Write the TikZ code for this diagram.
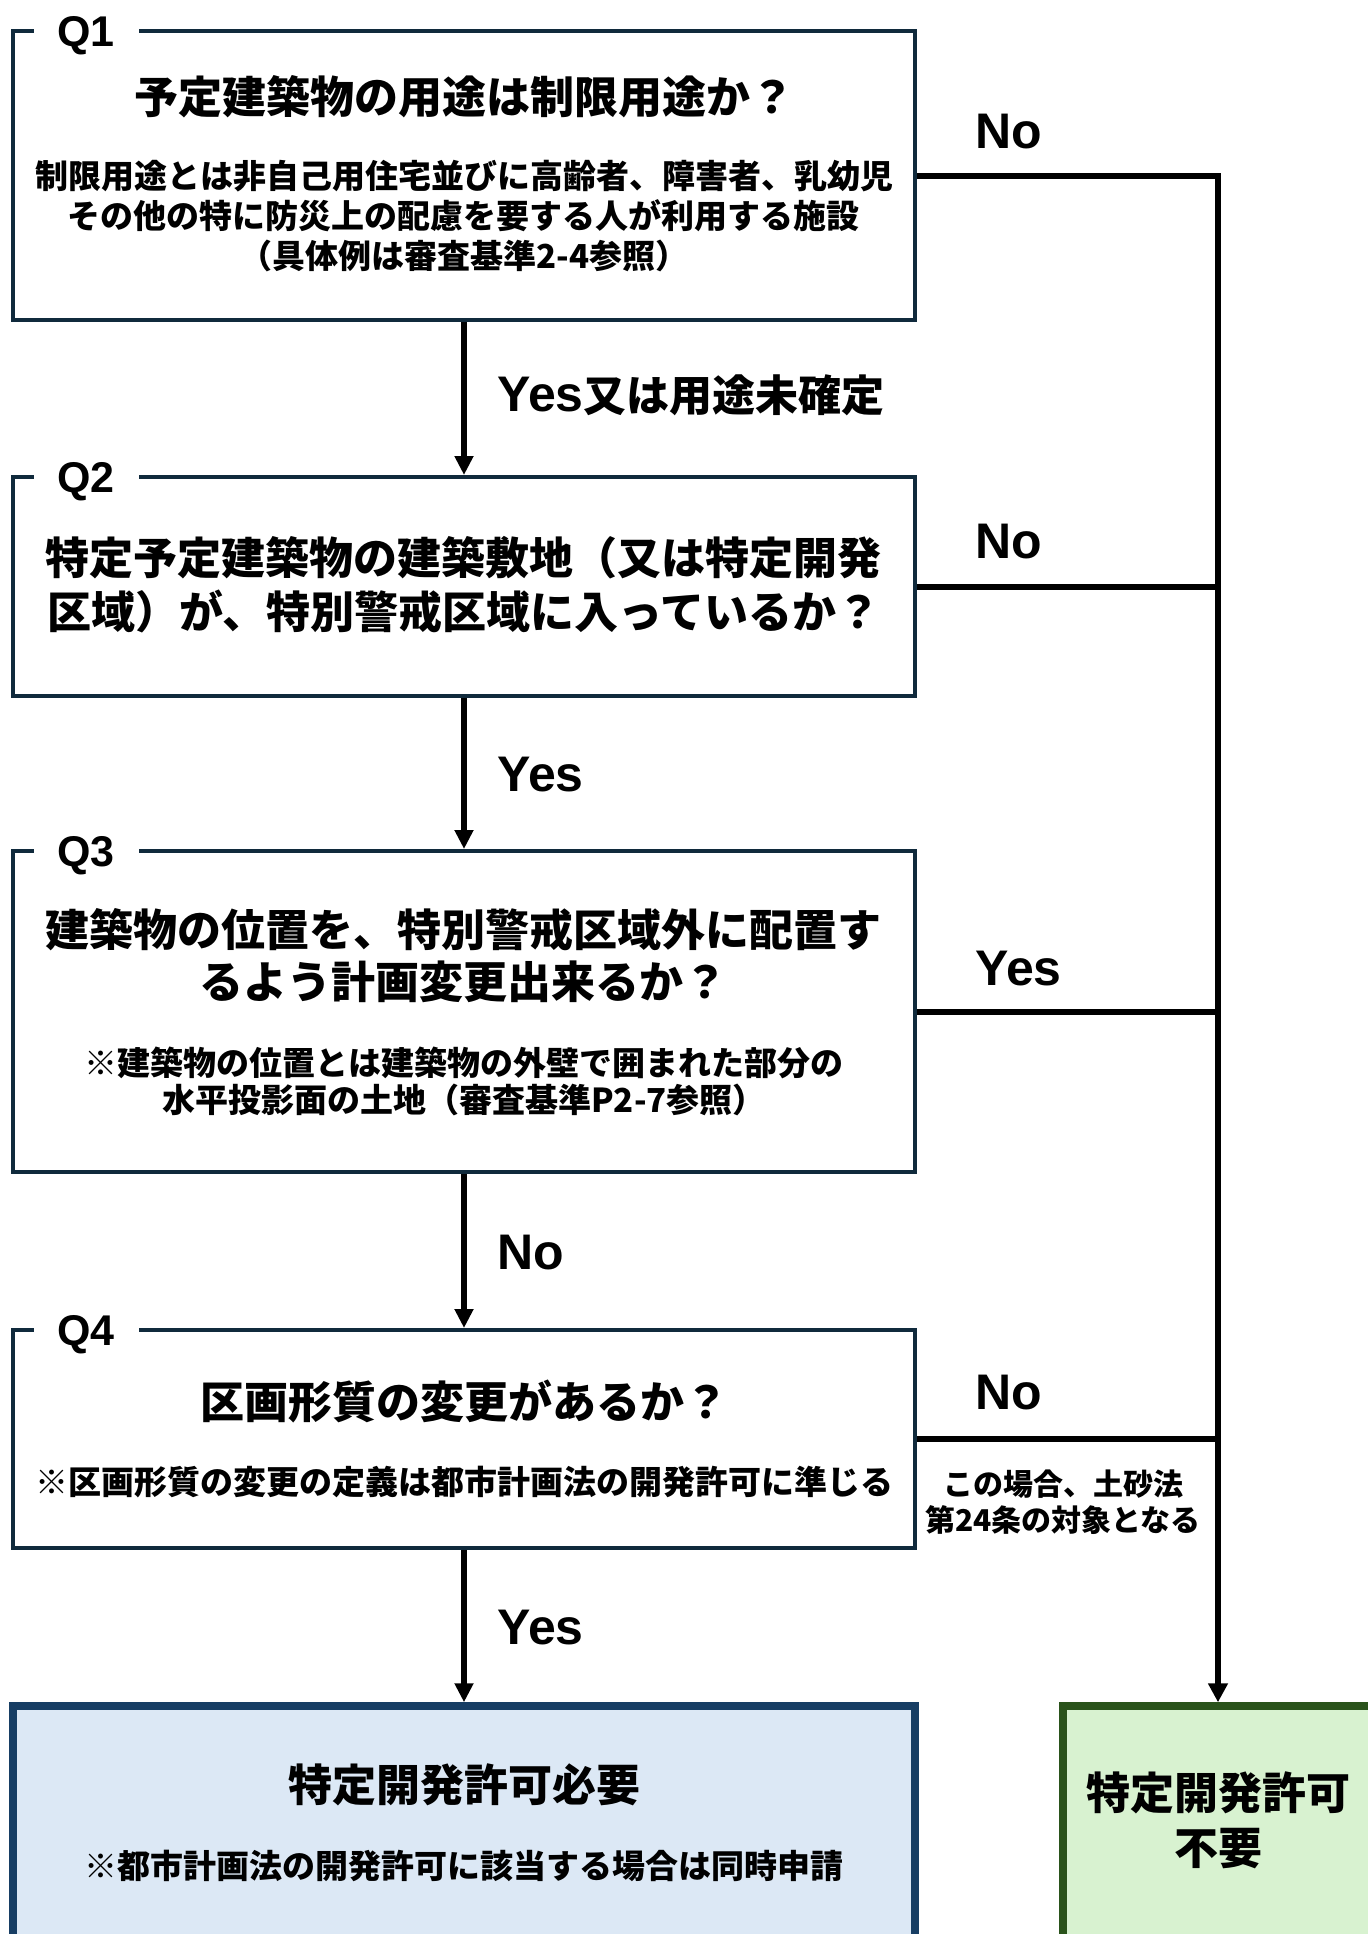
\documentclass[tikz,border=0pt]{standalone}
\usepackage{fontspec}
\setmainfont{Noto Sans CJK JP}
\newfontfamily\lat{Liberation Sans}
\usetikzlibrary{arrows.meta}
\definecolor{qline}{HTML}{102A3C}
\definecolor{bline}{HTML}{173E64}
\definecolor{bfill}{HTML}{DCE8F5}
\definecolor{gline}{HTML}{2A531B}
\definecolor{gfill}{HTML}{D8F2D0}
\begin{document}
\begin{tikzpicture}[x=0.5pt,y=-0.5pt,
  qbox/.style={draw=qline, line width=2pt, fill=white, minimum width=451pt, inner sep=0pt},
  qlabel/.style={fill=white, font=\lat\bfseries\fontsize{21.5}{21.5}\selectfont, minimum width=52.5pt, inner sep=1pt, anchor=base},
  ttl/.style={font=\bfseries\fontsize{22}{27}\selectfont, align=center, inner sep=0pt},
  note/.style={font=\bfseries\fontsize{16.5}{18.5}\selectfont, align=center, inner sep=0pt},
  lbl/.style={font=\lat\bfseries\fontsize{25}{25}\selectfont, anchor=west, inner sep=0pt},
  arr/.style={line width=2.75pt, -{Triangle[length=9.5pt,width=9pt]}},
  rline/.style={line width=3pt}
]
\useasboundingbox (0,0) rectangle (1367,1934);

% boxes
\node[qbox, minimum height=144.5pt] (q1) at (464,175.5) {};
\node[qbox, minimum height=109.5pt] (q2) at (464,586.5) {};
\node[qbox, minimum height=160.5pt] (q3) at (464,1011.5) {};
\node[qbox, minimum height=109pt] (q4) at (464,1439) {};
\node[draw=bline, fill=bfill, line width=3.75pt, minimum width=451pt, minimum height=119.5pt, inner sep=0pt] (res) at (464,1825.5) {};
\node[draw=gline, fill=gfill, line width=3.75pt, minimum width=155pt, minimum height=119.5pt, inner sep=0pt] (ng) at (1218,1825.5) {};

% Q labels
\node[qlabel] (l1) at (86,46) {Q1};
\node[qlabel] (l2) at (86,492) {Q2};
\node[qlabel] (l3) at (86,866) {Q3};
\node[qlabel] (l4) at (86,1345) {Q4};

% texts
\node[ttl] (t1) at (464,97) {予定建築物の用途は制限用途か？};
\node[note, font=\bfseries\fontsize{16.5}{20}\selectfont] (n1) at (464,216) {制限用途とは非自己用住宅並びに高齢者、障害者、乳幼児\\その他の特に防災上の配慮を要する人が利用する施設\\（具体例は審査基準2-4参照）};
\node[ttl] (t2) at (464,585) {特定予定建築物の建築敷地（又は特定開発\\区域）が、特別警戒区域に入っているか？};
\node[ttl, font=\bfseries\fontsize{22}{26}\selectfont] (t3) at (464,956) {建築物の位置を、特別警戒区域外に配置す\\るよう計画変更出来るか？};
\node[note] (n3) at (464,1081.5) {※建築物の位置とは建築物の外壁で囲まれた部分の\\水平投影面の土地（審査基準P2-7参照）};
\node[ttl] (t4) at (464,1401) {区画形質の変更があるか？};
\node[note] (n4) at (464,1482) {※区画形質の変更の定義は都市計画法の開発許可に準じる};
\node[note, font=\bfseries\fontsize{15}{18}\selectfont] (side) at (1063,1502) {この場合、土砂法\\第24条の対象となる};
\node[ttl] (t5) at (464,1785) {特定開発許可必要};
\node[note] (n5) at (464,1866) {※都市計画法の開発許可に該当する場合は同時申請};
\node[ttl, font=\bfseries\fontsize{22}{27.5}\selectfont] (t6) at (1218,1820.5) {特定開発許可\\不要};

% connectors
\draw[arr] (q1.south) -- (q2.north);
\draw[arr] (q2.south) -- (q3.north);
\draw[arr] (q3.south) -- (q4.north);
\draw[arr] (q4.south) -- (res.north);
\draw[rline, -{Triangle[length=9.5pt,width=9.5pt]}] (q1.east) -| (ng.north);
\draw[rline] (q2.east) -- (q2.east -| ng.north);
\draw[rline] (q3.east) -- (q3.east -| ng.north);
\draw[rline] (q4.east) -- (q4.east -| ng.north);

% labels
\node[lbl] (a1) at (975,132) {No};
\node[lbl] (a2) at (497,395) {Yes{\normalfont\bfseries\fontsize{21.5}{21.5}\selectfont 又は用途未確定}};
\node[lbl] (a3) at (975,542) {No};
\node[lbl] (a4) at (497,775) {Yes};
\node[lbl] (a5) at (975,969) {Yes};
\node[lbl] (a6) at (497,1253) {No};
\node[lbl] (a7) at (975,1393) {No};
\node[lbl] (a8) at (497,1628) {Yes};
\end{tikzpicture}
\end{document}
